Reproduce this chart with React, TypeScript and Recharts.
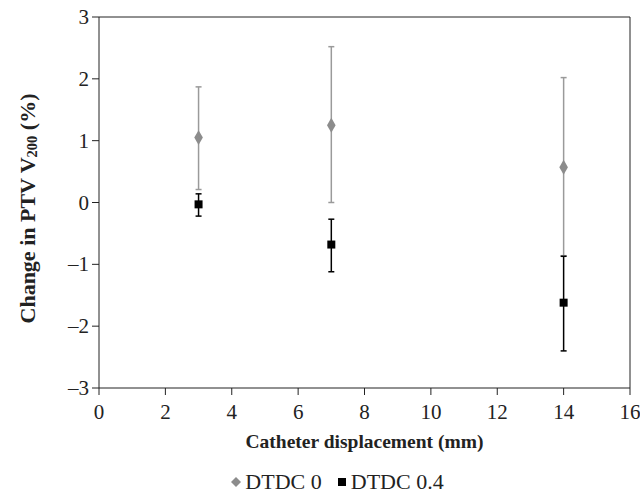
import React from 'react'
import { ScatterChart, Scatter, XAxis, YAxis, ErrorBar, ReferenceLine, Legend } from 'recharts'

const displacement = [3, 7, 14]
const dtdc0Mean = [1.05, 1.25, 0.57]
const dtdc0Upper = [1.87, 2.52, 2.02]
const dtdc0Lower = [0.21, 0.0, -0.86]
const dtdc04Mean = [-0.03, -0.68, -1.62]
const dtdc04Upper = [0.14, -0.27, -0.87]
const dtdc04Lower = [-0.22, -1.12, -2.4]

const xTicks = [0, 2, 4, 6, 8, 10, 12, 14, 16]
const yTicks = [-3, -2, -1, 0, 1, 2, 3]

const build = (mean: number[], up: number[], lo: number[]) =>
  displacement.map((x, i) => ({ x, y: mean[i], err: [mean[i] - lo[i], up[i] - mean[i]] }))

const dtdc0 = build(dtdc0Mean, dtdc0Upper, dtdc0Lower)
const dtdc04 = build(dtdc04Mean, dtdc04Upper, dtdc04Lower)

const FONT = 'Liberation Serif, Times New Roman, DejaVu Serif, serif'
const AXIS = '#222222'

const fmt = (v: number) => (v < 0 ? `\u2013${Math.abs(v)}` : `${v}`)

const renderXTick = (p: any) => (
  <text key={`x${p.index}`} x={p.x} y={p.y + 22} textAnchor="middle" fontFamily={FONT} fontSize={21} fill="#222">
    {p.payload.value}
  </text>
)

const renderYTick = (p: any) => (
  <text key={`y${p.index}`} x={p.x - 1} y={p.y + 7} textAnchor="end" fontFamily={FONT} fontSize={21} fill="#222">
    {fmt(p.payload.value)}
  </text>
)

const YLabel = (props: any) => {
  const vb = props.viewBox || { x: 0, y: 17, width: 99, height: 371 }
  const cx = 27
  const cy = vb.y + vb.height / 2 + 6
  return (
    <text
      x={cx}
      y={cy}
      transform={`rotate(-90, ${cx}, ${cy})`}
      textAnchor="middle"
      dominantBaseline="central"
      fontFamily={FONT}
      fontWeight="bold"
      fontSize={22}
      fill="#222"
    >
      Change in PTV V<tspan fontSize={14.5} dy={5}>200</tspan>
      <tspan dy={-5}> (%)</tspan>
    </text>
  )
}

const LegendContent = () => (
  <div
    style={{
      display: 'flex',
      justifyContent: 'center',
      alignItems: 'center',
      gap: 14,
      paddingTop: 10,
      paddingLeft: 44,
      height: 24,
      fontFamily: FONT,
      fontSize: 22,
      color: '#222',
    }}
  >
    <span style={{ display: 'flex', alignItems: 'center' }}>
      <svg width={12} height={12} style={{ marginRight: 3 }}>
        <polygon points="6,1 11,6 6,11 1,6" fill="#8c8c8c" />
      </svg>
      DTDC 0
    </span>
    <span style={{ display: 'flex', alignItems: 'center' }}>
      <svg width={12} height={12} style={{ marginRight: 3 }}>
        <rect x={2} y={2} width={8} height={8} fill="#000" />
      </svg>
      DTDC 0.4
    </span>
  </div>
)

export default function App() {
  return (
    <div style={{ position: 'absolute', left: 0, top: 0, background: '#fff', fontFamily: FONT }}>
      <ScatterChart
        width={640}
        height={502}
        margin={{ top: 17, right: 10, bottom: 8, left: 0 }}
        style={{ fontFamily: FONT }}
      >
        <XAxis
          type="number"
          dataKey="x"
          domain={[0, 16]}
          ticks={xTicks}
          interval={0}
          stroke={AXIS}
          tickSize={7}
          fontSize={21}
          fontFamily={FONT}
          tick={renderXTick}
          height={72}
          label={{
            value: 'Catheter displacement (mm)',
            position: 'insideBottom',
            offset: 12,
            fontFamily: FONT,
            fontWeight: 'bold',
            fontSize: 19.5,
            fill: '#222',
          }}
        />
        <YAxis
          type="number"
          dataKey="y"
          domain={[-3, 3]}
          ticks={yTicks}
          interval={0}
          width={99}
          stroke={AXIS}
          tickSize={7}
          fontSize={21}
          fontFamily={FONT}
          tick={renderYTick}
          label={<YLabel />}
        />
        <ReferenceLine y={3} stroke={AXIS} />
        <ReferenceLine x={16} stroke={AXIS} />
        <Legend verticalAlign="bottom" content={<LegendContent />} />
        <Scatter name="DTDC 0" data={dtdc0} fill="#8c8c8c" shape="diamond" isAnimationActive={false}>
          <ErrorBar dataKey="err" direction="y" stroke="#9a9a9a" strokeWidth={1.5} width={3} />
        </Scatter>
        <Scatter name="DTDC 0.4" data={dtdc04} fill="#000" shape="square" isAnimationActive={false}>
          <ErrorBar dataKey="err" direction="y" stroke="#000" strokeWidth={1.5} width={3} />
        </Scatter>
      </ScatterChart>
    </div>
  )
}
